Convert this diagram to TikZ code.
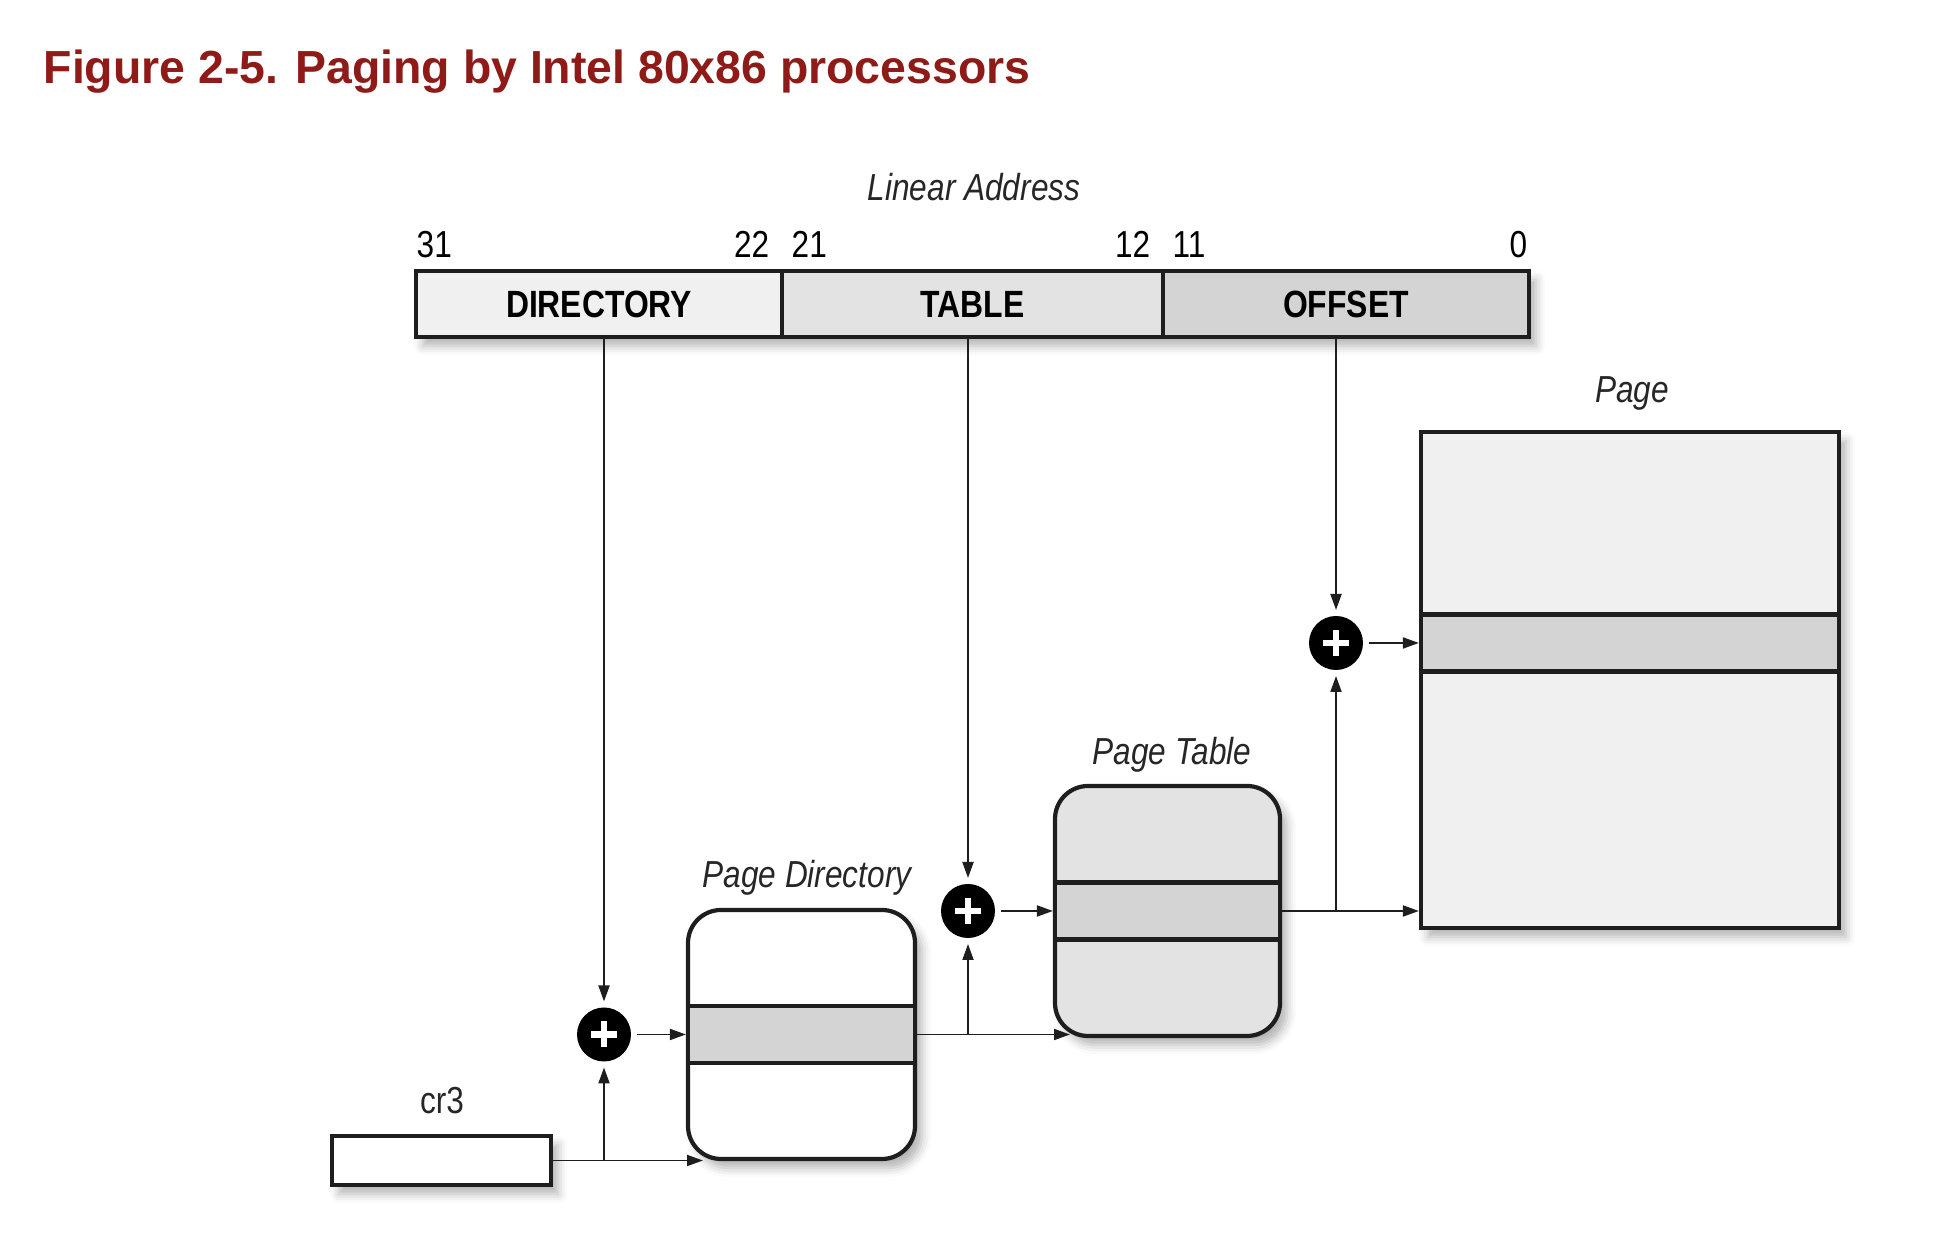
\documentclass[tikz,border=0pt]{standalone}
\usepackage{fontspec}
\setmainfont{Liberation Sans}
\newfontfamily\narrowsf[FakeStretch=0.84]{Liberation Sans}
\usetikzlibrary{arrows.meta,positioning,shadows.blur}
\definecolor{titlered}{HTML}{8E1B17}
\definecolor{lightfill}{HTML}{F0F0F0}
\definecolor{midfill}{HTML}{E3E3E3}
\definecolor{darkfill}{HTML}{D4D4D4}
\definecolor{edge}{HTML}{1E1E1E}
\tikzset{
  softshadow/.style={blur shadow={shadow xshift=0.7mm, shadow yshift=-0.9mm, shadow blur radius=0.9mm, shadow opacity=30}},
  field/.style={rectangle, draw=edge, line width=1.2pt, minimum height=0.66cm, inner sep=0pt, outer sep=0pt, font=\narrowsf\bfseries\fontsize{10.8}{12}\selectfont},
  tablebox/.style={rectangle, rounded corners=0.33cm, draw=edge, line width=1.2pt, inner sep=0pt, softshadow},
  entry/.style={rectangle, draw=edge, fill=darkfill, line width=1.2pt, inner sep=0pt, minimum height=0.57cm},
  adder/.style={circle, fill=black, minimum size=0.54cm, inner sep=0pt, outer sep=0.6mm,
    path picture={\draw[white, line width=1.8pt] ([xshift=-1.3mm]path picture bounding box.center) -- ([xshift=1.3mm]path picture bounding box.center);
                  \draw[white, line width=1.8pt] ([yshift=-1.3mm]path picture bounding box.center) -- ([yshift=1.3mm]path picture bounding box.center);}},
  bitnum/.style={inner sep=0pt, font=\narrowsf\fontsize{10.7}{12}\selectfont},
  caption/.style={inner sep=0pt, font=\narrowsf\itshape\fontsize{10.7}{12}\selectfont, text=black!85},
  arr/.style={draw=edge, line width=0.55pt, -{Triangle[length=1.6mm,width=1.1mm]}}
}
\begin{document}
\begin{tikzpicture}
        \useasboundingbox (0,0) rectangle (19.34,12.42);
        \node[anchor=base west, inner sep=0pt, font=\bfseries\fontsize{13.2}{15}\selectfont, text=titlered] at (0.43,11.58) (title) {Figure 2-5. Paging by Intel 80x86 processors};
        \node[caption, anchor=base] at (9.74,10.41) (linaddr) {Linear Address};
        \node[rectangle, fill=white, minimum width=11.13cm, minimum height=0.66cm, inner sep=0pt, outer sep=0pt, softshadow] at (9.725,9.38) (addr) {};
        \node[field, fill=lightfill, minimum width=3.66cm, anchor=west] at (addr.west) (dirfield) {DIRECTORY};
        \node[field, fill=midfill, minimum width=3.81cm, right=0pt of dirfield] (tablefield) {TABLE};
        \node[field, fill=darkfill, minimum width=3.66cm, right=0pt of tablefield] (offsetfield) {OFFSET};
        \node[bitnum, anchor=base west] at (4.16,9.84) (b31) {31};
        \node[bitnum, anchor=base east] at (7.70,9.84) (b22) {22};
        \node[bitnum, anchor=base west] at (7.91,9.84) (b21) {21};
        \node[bitnum, anchor=base east] at (11.51,9.84) (b12) {12};
        \node[bitnum, anchor=base west] at (11.72,9.84) (b11) {11};
        \node[bitnum, anchor=base east] at (15.28,9.84) (b0) {0};
        \node[tablebox, fill=white, minimum width=2.27cm, minimum height=2.49cm] at (8.015,2.075) (pgdir) {};
        \node[entry, minimum width=2.27cm] at (pgdir.center) (pgdirentry) {};
        \node[caption, anchor=base] at (8.07,3.54) (pgdirlabel) {Page Directory};
        \node[tablebox, fill=midfill, minimum width=2.25cm, minimum height=2.50cm] at (11.675,3.31) (pgtab) {};
        \node[entry, minimum width=2.25cm] at (pgtab.center) (pgtabentry) {};
        \node[caption, anchor=base] at (11.72,4.77) (pgtablabel) {Page Table};
        \node[rectangle, draw=edge, line width=1.2pt, fill=lightfill, inner sep=0pt, minimum width=4.18cm, minimum height=4.96cm, softshadow] at (16.30,5.62) (page) {};
        \node[entry, minimum width=4.18cm] at (16.30,5.99) (pageentry) {};
        \node[caption, anchor=base] at (16.32,8.39) (pagelabel) {Page};
        \node[rectangle, draw=edge, line width=1.2pt, fill=white, inner sep=0pt, minimum width=2.19cm, minimum height=0.49cm, softshadow] at (4.415,0.815) (cr3) {};
        \node[caption, font=\narrowsf\fontsize{10.7}{12}\selectfont, anchor=base] at (4.42,1.28) (cr3label) {cr3};
        \node[adder] at (6.04,2.075) (c1) {};
        \node[adder] at (9.68,3.31) (c2) {};
        \node[adder] at (13.36,5.99) (c3) {};
        \coordinate (pgdirin) at (7.03,0.815);
        \coordinate (pgtabin) at (10.70,2.075);
        \draw[arr] (c1 |- dirfield.south) -- (c1);
        \draw[arr] (c2 |- tablefield.south) -- (c2);
        \draw[arr] (c3 |- offsetfield.south) -- (c3);
        \draw[arr] (cr3.east) -- (pgdirin);
        \draw[arr] (c1 |- cr3.east) -- (c1);
        \draw[arr] (c1) -- (pgdirentry);
        \draw[arr] (pgdirentry.east) -- (pgtabin);
        \draw[arr] (c2 |- pgdirentry.east) -- (c2);
        \draw[arr] (c2) -- (pgtabentry);
        \draw[arr] (pgtabentry.east) -- (pgtabentry.east -| page.west);
        \draw[arr] (c3 |- pgtabentry.east) -- (c3);
        \draw[arr] (c3) -- (pageentry);
      \end{tikzpicture}
\end{document}
